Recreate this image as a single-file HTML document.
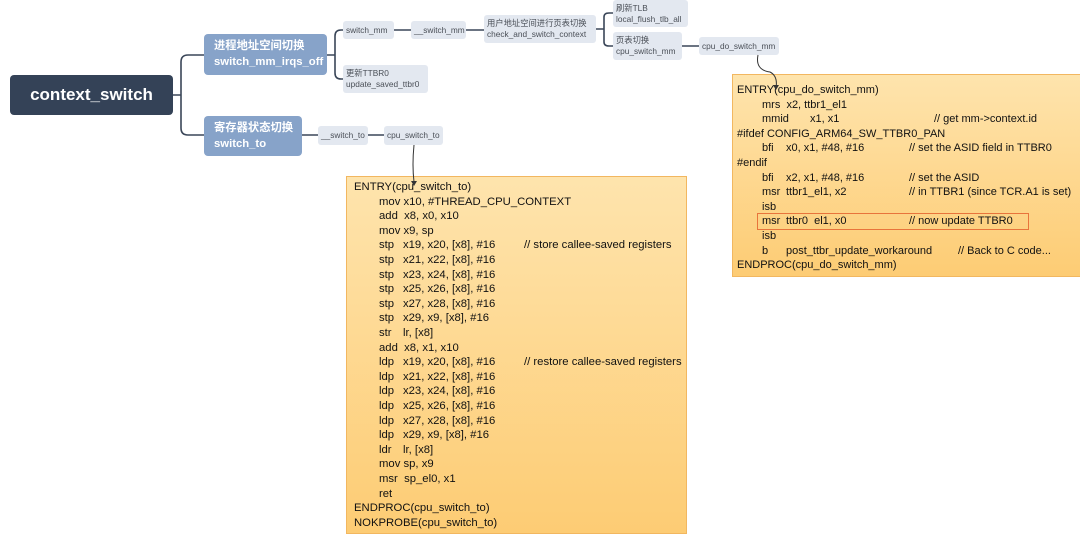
<!DOCTYPE html>
<html><head><meta charset="utf-8"><style>
body{margin:0;width:1080px;height:535px;background:#fff;position:relative;overflow:hidden;font-family:"Liberation Sans","Noto Sans CJK SC",sans-serif}
.n{position:absolute;background:#e3e8f0;color:#4a4f57;font-size:8.3px;line-height:11px;border-radius:3px;padding:3px 3px;box-sizing:border-box;white-space:nowrap;display:flex;flex-direction:column;justify-content:center;overflow:hidden}
.b{position:absolute;background:#87a3c9;color:#fff;font-weight:bold;font-size:11.3px;line-height:16px;border-radius:4px;padding:4px 10px;box-sizing:border-box;white-space:nowrap}
.code{position:absolute;border:1px solid #f2b760;background:linear-gradient(#fee4ad,#fdcc74);font-size:11.3px;color:#111}
.code div{position:absolute;white-space:nowrap;line-height:14px}
.code span{position:absolute}
svg{position:absolute;left:0;top:0}
</style></head><body>
<svg width="1080" height="535">
<g fill="none" stroke="#3a4658" stroke-width="1.6">
<path d="M173 95 H181 M181 95 V62 Q181 55 188 55 H204 M181 95 V128 Q181 135 188 135 H204"/>
<path d="M327 55 H335 M335 55 V36 Q335 30 341 30 H343 M335 55 V73 Q335 79 341 79 H343"/>
<path d="M394 30 H411 M466 30 H484 M596 29 H604 M604 29 V17 Q604 13 609 13 H613 M604 29 V42 Q604 46 609 46 H613 M682 46 H699"/>
<path d="M302 135 H318 M368 135 H384"/>
</g>
</svg>
<div style="position:absolute;left:10px;top:75px;width:163px;height:40px;background:#344257;border-radius:4px;color:#fff;font-weight:bold;font-size:17px;line-height:40px;text-align:center">context_switch</div>
<div class="b" style="left:204px;top:34px;width:123px;height:41px">进程地址空间切换<br>switch_mm_irqs_off</div>
<div class="b" style="left:204px;top:116px;width:98px;height:40px">寄存器状态切换<br>switch_to</div>
<div class="n" style="left:343px;top:21px;width:51px;height:18px">switch_mm</div>
<div class="n" style="left:411px;top:21px;width:55px;height:18px">__switch_mm</div>
<div class="n" style="left:343px;top:65px;width:85px;height:28px"><span>更新TTBR0</span><span>update_saved_ttbr0</span></div>
<div class="n" style="left:318px;top:126px;width:50px;height:19px">__switch_to</div>
<div class="n" style="left:384px;top:126px;width:59px;height:19px">cpu_switch_to</div>
<div class="n" style="left:484px;top:15px;width:112px;height:28px"><span>用户地址空间进行页表切换</span><span>check_and_switch_context</span></div>
<div class="n" style="left:613px;top:0px;width:75px;height:27px"><span>刷新TLB</span><span>local_flush_tlb_all</span></div>
<div class="n" style="left:613px;top:32px;width:69px;height:28px"><span>页表切换</span><span>cpu_switch_mm</span></div>
<div class="n" style="left:699px;top:37px;width:80px;height:18px">cpu_do_switch_mm</div>

<div class="code" style="left:346px;top:176px;width:339px;height:356px">
<div style="left:7px;top:3px">ENTRY(cpu_switch_to)</div>
<div style="left:32px;top:17.6px">mov x10, #THREAD_CPU_CONTEXT</div>
<div style="left:32px;top:32.2px">add&nbsp; x8, x0, x10</div>
<div style="left:32px;top:46.8px">mov x9, sp</div>
<div style="left:32px;top:61.4px">stp<span style="left:24px">x19,&nbsp;x20,&nbsp;[x8],&nbsp;#16</span><span style="left:145px">// store callee-saved registers</span></div>
<div style="left:32px;top:76px">stp<span style="left:24px">x21,&nbsp;x22,&nbsp;[x8],&nbsp;#16</span></div>
<div style="left:32px;top:90.6px">stp<span style="left:24px">x23,&nbsp;x24,&nbsp;[x8],&nbsp;#16</span></div>
<div style="left:32px;top:105.2px">stp<span style="left:24px">x25,&nbsp;x26,&nbsp;[x8],&nbsp;#16</span></div>
<div style="left:32px;top:119.8px">stp<span style="left:24px">x27,&nbsp;x28,&nbsp;[x8],&nbsp;#16</span></div>
<div style="left:32px;top:134.4px">stp<span style="left:24px">x29,&nbsp;x9,&nbsp;[x8],&nbsp;#16</span></div>
<div style="left:32px;top:149px">str<span style="left:24px">lr,&nbsp;[x8]</span></div>
<div style="left:32px;top:163.6px">add&nbsp; x8, x1, x10</div>
<div style="left:32px;top:178.2px">ldp<span style="left:24px">x19,&nbsp;x20,&nbsp;[x8],&nbsp;#16</span><span style="left:145px">// restore callee-saved registers</span></div>
<div style="left:32px;top:192.8px">ldp<span style="left:24px">x21,&nbsp;x22,&nbsp;[x8],&nbsp;#16</span></div>
<div style="left:32px;top:207.4px">ldp<span style="left:24px">x23,&nbsp;x24,&nbsp;[x8],&nbsp;#16</span></div>
<div style="left:32px;top:222px">ldp<span style="left:24px">x25,&nbsp;x26,&nbsp;[x8],&nbsp;#16</span></div>
<div style="left:32px;top:236.6px">ldp<span style="left:24px">x27,&nbsp;x28,&nbsp;[x8],&nbsp;#16</span></div>
<div style="left:32px;top:251.2px">ldp<span style="left:24px">x29,&nbsp;x9,&nbsp;[x8],&nbsp;#16</span></div>
<div style="left:32px;top:265.8px">ldr<span style="left:24px">lr,&nbsp;[x8]</span></div>
<div style="left:32px;top:280.4px">mov sp, x9</div>
<div style="left:32px;top:295px">msr&nbsp; sp_el0, x1</div>
<div style="left:32px;top:309.6px">ret</div>
<div style="left:7px;top:324.2px">ENDPROC(cpu_switch_to)</div>
<div style="left:7px;top:338.8px">NOKPROBE(cpu_switch_to)</div>
</div>

<div class="code" style="left:732px;top:74px;width:347px;height:201px;font-size:11px">
<div style="left:4px;top:8px">ENTRY(cpu_do_switch_mm)</div>
<div style="left:29px;top:22.6px">mrs&nbsp; x2, ttbr1_el1</div>
<div style="left:29px;top:37.2px">mmid<span style="left:48px">x1,&nbsp;x1</span><span style="left:172px">// get mm-&gt;context.id</span></div>
<div style="left:4px;top:51.8px">#ifdef CONFIG_ARM64_SW_TTBR0_PAN</div>
<div style="left:29px;top:66.4px">bfi<span style="left:24px">x0,&nbsp;x1,&nbsp;#48,&nbsp;#16</span><span style="left:147px">// set the ASID field in TTBR0</span></div>
<div style="left:4px;top:81px">#endif</div>
<div style="left:29px;top:95.6px">bfi<span style="left:24px">x2,&nbsp;x1,&nbsp;#48,&nbsp;#16</span><span style="left:147px">// set the ASID</span></div>
<div style="left:29px;top:110.2px">msr<span style="left:24px">ttbr1_el1,&nbsp;x2</span><span style="left:147px">// in TTBR1 (since TCR.A1 is set)</span></div>
<div style="left:29px;top:124.8px">isb</div>
<div style="left:29px;top:139.4px">msr<span style="left:24px">ttbr0&nbsp;&nbsp;el1,&nbsp;x0</span><span style="left:147px">// now update TTBR0</span></div>
<div style="left:29px;top:154px">isb</div>
<div style="left:29px;top:168.6px">b<span style="left:24px">post_ttbr_update_workaround</span><span style="left:196px">// Back to C code...</span></div>
<div style="left:4px;top:183.2px">ENDPROC(cpu_do_switch_mm)</div>
<div style="left:24px;top:138px;width:270px;height:15px;border:1.5px solid #e8743b"></div>
</div>
<svg width="1080" height="535" style="z-index:5">
<g fill="none" stroke="#333" stroke-width="1">
<path d="M414 145 Q412 165 414 182"/>
<path d="M758 55 Q755 70 770 72 Q778 76 776 88"/>
</g>
<path d="M411 181 L414 186 L417 181Z" fill="#333"/>
<path d="M773 85 L776 90 L779 85Z" fill="#333"/>
</svg>
</body></html>
